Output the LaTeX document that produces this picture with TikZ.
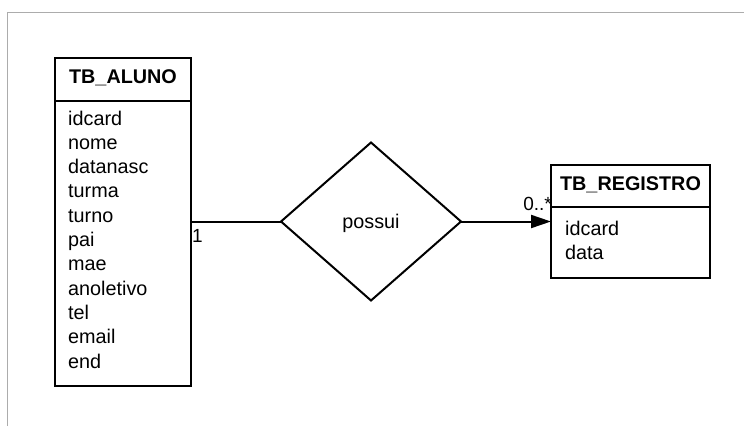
\documentclass[tikz,border=0pt]{standalone}
\usepackage{fontspec}
\setmainfont{Liberation Sans}
\usetikzlibrary{arrows.meta,shapes.geometric}

\begin{document}
\begin{tikzpicture}[x=1pt,y=-1pt,
  every node/.style={font=\fontsize{19.8}{24.3}\selectfont},
  entity/.style={draw=black,line width=2pt,inner sep=0pt,outer sep=0pt},
  title/.style={font=\fontsize{19.8}{24.3}\selectfont\bfseries,anchor=base,inner sep=0pt},
  field/.style={anchor=base west,inner sep=0pt},
  rel/.style={draw=black,line width=2pt,diamond,inner sep=0pt,outer sep=0pt,
    minimum width=180pt,minimum height=158pt},
  link/.style={draw=black,line width=2pt},
  card/.style={font=\fontsize{19}{22}\selectfont,inner sep=0pt}
]
\useasboundingbox (0,0) rectangle (744,426);

% frame
\draw[gray!65,line width=1pt] (7.5,426) -- (7.5,12.5) -- (744,12.5);

% TB_ALUNO
\node[entity,minimum width=136pt,minimum height=328pt] (aluno) at (123,221.5) {};
\draw[line width=2pt] (aluno.west |- 0,100.7) -- (aluno.east |- 0,100.7);
\node[title] (alunoT) at (123,83.3) {TB\_ALUNO};
\foreach \t [count=\i from 0] in {idcard,nome,datanasc,turma,turno,pai,mae,anoletivo,tel,email,end}
  \node[field] (af\i) at (68,125+24.3*\i) {\t};

% TB_REGISTRO
\node[entity,minimum width=159pt,minimum height=113pt] (reg) at (630.5,221.5) {};
\draw[line width=2pt] (reg.west |- 0,206.7) -- (reg.east |- 0,206.7);
\node[title] (regT) at (630.5,190) {TB\_REGISTRO};
\node[field] (rf0) at (565,235) {idcard};
\node[field] (rf1) at (565,259) {data};

% relationship
\node[rel] (possui) at (371,221.5) {};
\node[inner sep=0pt,anchor=base] (possuiT) at (371,228.5) {possui};

% connectors
\draw[link] (aluno.east) -- (possui.west);
\draw[link,-{Triangle[length=20pt,width=13pt]}] (possui.east) -- (reg.west);

% cardinalities
\node[card,anchor=base west] (c1) at (192,242) {1};
\node[card,anchor=base east] (c2) at (552,210) {0..*};
\end{tikzpicture}
\end{document}
